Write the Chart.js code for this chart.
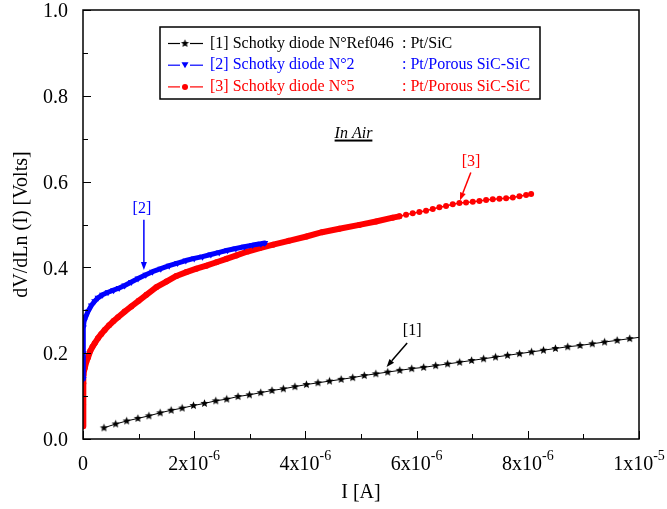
<!DOCTYPE html>
<html>
<head>
<meta charset="utf-8">
<script src="https://cdn.jsdelivr.net/npm/chart.js@4.4.1/dist/chart.umd.min.js"></script>
<style>
  html, body { margin: 0; padding: 0; background: #fff; }
</style>
</head>
<body>
<canvas id="c" width="667" height="509"></canvas>
<script>
// --- DATA (current in micro-amps, dV/dLn(I) in volts) ---
const ref046_I = [0.377, 0.587, 0.785, 0.987, 1.185, 1.388, 1.585, 1.783, 1.987, 2.185,
  2.388, 2.585, 2.788, 2.993, 3.196, 3.399, 3.603, 3.811, 4.018, 4.226,
  4.434, 4.643, 4.851, 5.059, 5.267, 5.481, 5.697, 5.912, 6.127, 6.343,
  6.558, 6.774, 6.989, 7.205, 7.420, 7.636, 7.851, 8.067, 8.282, 8.497,
  8.718, 8.939, 9.160, 9.381, 9.607, 9.833, 10.06];
const ref046_V = [0.026, 0.035, 0.042, 0.048, 0.054, 0.061, 0.067, 0.072, 0.078, 0.083,
  0.089, 0.093, 0.099, 0.103, 0.108, 0.113, 0.117, 0.122, 0.127, 0.131,
  0.135, 0.139, 0.143, 0.148, 0.152, 0.156, 0.160, 0.164, 0.167, 0.171,
  0.175, 0.179, 0.183, 0.187, 0.191, 0.195, 0.199, 0.203, 0.207, 0.211,
  0.215, 0.218, 0.222, 0.226, 0.230, 0.234, 0.238];

const n2_I = [0.002, 0.004, 0.007, 0.02, 0.05, 0.09, 0.15, 0.21, 0.27, 0.35,
  0.45, 0.55, 0.65, 0.75, 0.87, 0.99, 1.13, 1.25, 1.40, 1.55,
  1.70, 1.85, 2.00, 2.15, 2.30, 2.45, 2.60, 2.75, 2.90, 3.05,
  3.20, 3.27];
const n2_V = [0.140, 0.200, 0.260, 0.275, 0.285, 0.297, 0.311, 0.321, 0.329, 0.336,
  0.342, 0.347, 0.352, 0.358, 0.366, 0.374, 0.383, 0.390, 0.397, 0.404,
  0.410, 0.416, 0.421, 0.425, 0.430, 0.435, 0.440, 0.444, 0.448, 0.452,
  0.455, 0.457];

const n5_I = [0.000, 0.002, 0.005, 0.010, 0.03, 0.06, 0.09, 0.13, 0.17, 0.21,
  0.27, 0.33, 0.39, 0.47, 0.55, 0.63, 0.75, 0.87, 1.00, 1.14,
  1.32, 1.50, 1.68, 1.86, 2.04, 2.22, 2.40, 2.58, 2.76, 2.96,
  3.18, 3.42, 3.70, 4.02, 4.30, 4.61, 4.97, 5.27, 5.57, 5.69,
  5.81, 5.93, 6.05, 6.17, 6.29, 6.41, 6.53, 6.65, 6.77, 6.89,
  7.01, 7.13, 7.25, 7.37, 7.49, 7.61, 7.73, 7.85, 7.97, 8.06];
const n5_V = [0.030, 0.080, 0.130, 0.150, 0.165, 0.180, 0.190, 0.205, 0.215, 0.223,
  0.235, 0.245, 0.254, 0.265, 0.275, 0.284, 0.297, 0.309, 0.322, 0.336,
  0.354, 0.367, 0.380, 0.389, 0.397, 0.404, 0.412, 0.420, 0.428, 0.437,
  0.445, 0.453, 0.462, 0.472, 0.482, 0.490, 0.499, 0.507, 0.516, 0.519,
  0.523, 0.526, 0.529, 0.532, 0.536, 0.540, 0.543, 0.547, 0.550, 0.551,
  0.553, 0.555, 0.557, 0.559, 0.560, 0.561, 0.563, 0.566, 0.569, 0.571];

const xTickBase = ['0', '2x10', '4x10', '6x10', '8x10', '1x10'];
const xTickExp  = ['', '-6', '-6', '-6', '-6', '-5'];
const yTickLabels = ['0.0', '0.2', '0.4', '0.6', '0.8', '1.0'];

const FONT = "'Liberation Serif', 'Times New Roman', serif";
const BLUE = '#0000ff';
const RED = '#ff0000';

function toPoints(xs, ys) {
  return xs.map((x, i) => ({ x, y: ys[i] }));
}

// small filled star used as marker for the reference diode
function starImage(r, color) {
  const s = Math.ceil(r * 2) + 2;
  const c = document.createElement('canvas');
  c.width = s; c.height = s;
  const g = c.getContext('2d');
  g.fillStyle = color;
  g.beginPath();
  for (let i = 0; i < 10; i++) {
    const rad = i % 2 ? r * 0.45 : r;
    const a = -Math.PI / 2 + i * Math.PI / 5;
    g.lineTo(s / 2 + rad * Math.cos(a), s / 2 + rad * Math.sin(a));
  }
  g.closePath();
  g.fill();
  return c;
}
const STAR = starImage(4.3, '#000');

function arrow(ctx, x1, y1, x2, y2, color) {
  const ang = Math.atan2(y2 - y1, x2 - x1);
  const L = 8, W = 3;
  ctx.strokeStyle = color; ctx.fillStyle = color; ctx.lineWidth = 1.5;
  ctx.beginPath();
  ctx.moveTo(x1, y1);
  ctx.lineTo(x2 - L * Math.cos(ang), y2 - L * Math.sin(ang));
  ctx.stroke();
  ctx.beginPath();
  ctx.moveTo(x2, y2);
  ctx.lineTo(x2 - L * Math.cos(ang) + W * Math.sin(ang), y2 - L * Math.sin(ang) - W * Math.cos(ang));
  ctx.lineTo(x2 - L * Math.cos(ang) - W * Math.sin(ang), y2 - L * Math.sin(ang) + W * Math.cos(ang));
  ctx.closePath();
  ctx.fill();
}

// --- frame, inward ticks, x tick labels ---
const framePlugin = {
  id: 'frame',
  afterDraw(chart) {
    const { ctx, chartArea: a, scales: { x, y } } = chart;
    ctx.save();
    ctx.strokeStyle = '#000';
    ctx.lineWidth = 1.5;
    ctx.strokeRect(a.left, a.top, a.right - a.left, a.bottom - a.top);

    ctx.lineWidth = 1;
    x.ticks.forEach(t => {
      const px = Math.round(x.getPixelForValue(t.value)) + 0.5;
      const len = Math.round(t.value) % 2 === 0 ? 8 : 5;
      ctx.beginPath(); ctx.moveTo(px, a.bottom); ctx.lineTo(px, a.bottom - len); ctx.stroke();
    });
    y.ticks.forEach(t => {
      const py = Math.round(y.getPixelForValue(t.value)) + 0.5;
      const len = Math.round(t.value * 10) % 2 === 0 ? 8 : 5;
      ctx.beginPath(); ctx.moveTo(a.left, py); ctx.lineTo(a.left + len, py); ctx.stroke();
    });

    // x tick labels with exponent
    ctx.fillStyle = '#000';
    ctx.textBaseline = 'middle';
    x.ticks.forEach(t => {
      const v = Math.round(t.value);
      if (v % 2 !== 0) return;
      const k = v / 2;
      const base = xTickBase[k], exp = xTickExp[k];
      ctx.font = '20px ' + FONT;
      const wb = ctx.measureText(base).width;
      ctx.font = '14px ' + FONT;
      const we = exp ? ctx.measureText(exp).width : 0;
      const cx = x.getPixelForValue(t.value);
      const x0 = cx - (wb + we) / 2;
      ctx.font = '20px ' + FONT;
      ctx.textAlign = 'left';
      ctx.fillText(base, x0, 465);
      if (exp) {
        ctx.font = '14px ' + FONT;
        ctx.fillText(exp, x0 + wb, 456);
      }
    });
    ctx.restore();
  }
};

// --- annotations: arrows, labels, "In Air" ---
const notePlugin = {
  id: 'notes',
  afterDraw(chart) {
    const { ctx, scales: { x, y } } = chart;
    const P = (a, b) => [x.getPixelForValue(a), y.getPixelForValue(b)];
    ctx.save();
    ctx.font = '16px ' + FONT;
    ctx.textAlign = 'center';
    ctx.textBaseline = 'middle';

    let t = P(1.06, 0.537);
    ctx.fillStyle = BLUE; ctx.fillText('[2]', t[0], t[1]);
    let s = P(1.095, 0.511), e = P(1.095, 0.394);
    arrow(ctx, s[0], s[1], e[0], e[1], BLUE);

    t = P(6.98, 0.645);
    ctx.fillStyle = RED; ctx.fillText('[3]', t[0], t[1]);
    s = P(6.975, 0.621); e = P(6.78, 0.556);
    arrow(ctx, s[0], s[1], e[0], e[1], RED);

    t = P(5.92, 0.252);
    ctx.fillStyle = '#000'; ctx.fillText('[1]', t[0], t[1]);
    s = P(5.83, 0.224); e = P(5.46, 0.168);
    arrow(ctx, s[0], s[1], e[0], e[1], '#000');

    t = P(4.865, 0.712);
    ctx.font = 'italic 16px ' + FONT;
    ctx.fillStyle = '#000';
    ctx.fillText('In Air', t[0], t[1]);
    const w = ctx.measureText('In Air').width;
    ctx.fillRect(t[0] - w / 2, t[1] + 6, w, 2);
    ctx.restore();
  }
};

// --- boxed legend ---
const legendRows = [
  { name: '[1] Schotky diode N°Ref046', kind: ': Pt/SiC', color: '#000', marker: 'star' },
  { name: '[2] Schotky diode N°2', kind: ': Pt/Porous SiC-SiC', color: BLUE, marker: 'tri' },
  { name: '[3] Schotky diode N°5', kind: ': Pt/Porous SiC-SiC', color: RED, marker: 'dot' }
];
const legendPlugin = {
  id: 'boxLegend',
  afterDraw(chart) {
    const { ctx } = chart;
    ctx.save();
    ctx.fillStyle = '#fff';
    ctx.fillRect(160, 27, 380, 72);
    ctx.strokeStyle = '#000';
    ctx.lineWidth = 1.5;
    ctx.strokeRect(160, 27, 380, 72);
    ctx.font = '16px ' + FONT;
    ctx.textBaseline = 'middle';
    ctx.textAlign = 'left';
    legendRows.forEach((r, i) => {
      const yy = 43.5 + i * 21.7;
      ctx.strokeStyle = r.color; ctx.fillStyle = r.color; ctx.lineWidth = 1.2;
      ctx.beginPath(); ctx.moveTo(168, yy); ctx.lineTo(180, yy); ctx.stroke();
      ctx.beginPath(); ctx.moveTo(190, yy); ctx.lineTo(203, yy); ctx.stroke();
      if (r.marker === 'star') {
        ctx.drawImage(STAR, 185 - STAR.width / 2, yy - STAR.height / 2);
      } else if (r.marker === 'tri') {
        ctx.beginPath(); ctx.moveTo(181.5, yy - 3); ctx.lineTo(188.5, yy - 3); ctx.lineTo(185, yy + 3); ctx.closePath(); ctx.fill();
      } else {
        ctx.beginPath(); ctx.arc(185, yy, 3, 0, Math.PI * 2); ctx.fill();
      }
      ctx.fillText(r.name, 210, yy);
      ctx.fillText(r.kind, 402, yy);
    });
    ctx.restore();
  }
};

new Chart(document.getElementById('c'), {
  type: 'scatter',
  data: {
    datasets: [
      {
        label: '[1] Schotky diode N°Ref046 : Pt/SiC',
        data: toPoints(ref046_I, ref046_V),
        showLine: true,
        borderColor: '#000',
        borderWidth: 1,
        pointStyle: STAR,
        pointRadius: ctx => (ctx.raw && ctx.raw.x > 10 ? 0 : 4),
        pointBackgroundColor: '#000'
      },
      {
        label: '[2] Schotky diode N°2 : Pt/Porous SiC-SiC',
        data: toPoints(n2_I, n2_V),
        showLine: true,
        borderColor: BLUE,
        borderWidth: 5,
        borderJoinStyle: 'round',
        borderCapStyle: 'round',
        pointStyle: 'triangle',
        rotation: 180,
        pointRadius: 4,
        pointBorderWidth: 0,
        pointBackgroundColor: BLUE
      },
      {
        label: '[3] Schotky diode N°5 : Pt/Porous SiC-SiC',
        data: toPoints(n5_I, n5_V),
        showLine: true,
        borderColor: RED,
        borderWidth: 6,
        borderJoinStyle: 'round',
        borderCapStyle: 'round',
        segment: { borderWidth: ctx => (ctx.p0.parsed.x < 5.6 ? 6 : 1.5) },
        pointStyle: 'circle',
        pointRadius: 3,
        pointBorderWidth: 0,
        pointBackgroundColor: RED
      }
    ]
  },
  options: {
    responsive: false,
    animation: false,
    devicePixelRatio: 1,
    layout: { padding: { left: 0, top: 10, right: 28, bottom: 0 } },
    plugins: {
      legend: { display: false },
      tooltip: { enabled: false }
    },
    scales: {
      x: {
        type: 'linear',
        min: 0, max: 10,
        grid: { display: false },
        border: { display: false },
        ticks: { display: false, stepSize: 1, autoSkip: false },
        title: { display: true, text: 'I [A]', color: '#000', font: { family: FONT, size: 20 }, padding: { top: 0, bottom: 4 } },
        afterFit: s => { s.height = 70; s.paddingLeft = 0; s.paddingRight = 0; }
      },
      y: {
        type: 'linear',
        min: 0, max: 1,
        grid: { display: false },
        border: { display: false },
        ticks: {
          stepSize: 0.1,
          autoSkip: false,
          color: '#000',
          padding: 7,
          labelOffset: 2,
          font: { family: FONT, size: 20 },
          callback: v => {
            const k = Math.round(v * 10);
            return k % 2 === 0 ? yTickLabels[k / 2] : '';
          }
        },
        title: { display: true, text: 'dV/dLn (I) [Volts]', color: '#000', font: { family: FONT, size: 20 }, padding: { top: 10, bottom: 0 } },
        afterFit: s => { s.width = 83; s.paddingTop = 0; s.paddingBottom = 0; }
      }
    }
  },
  plugins: [framePlugin, notePlugin, legendPlugin]
});
</script>
</body>
</html>
